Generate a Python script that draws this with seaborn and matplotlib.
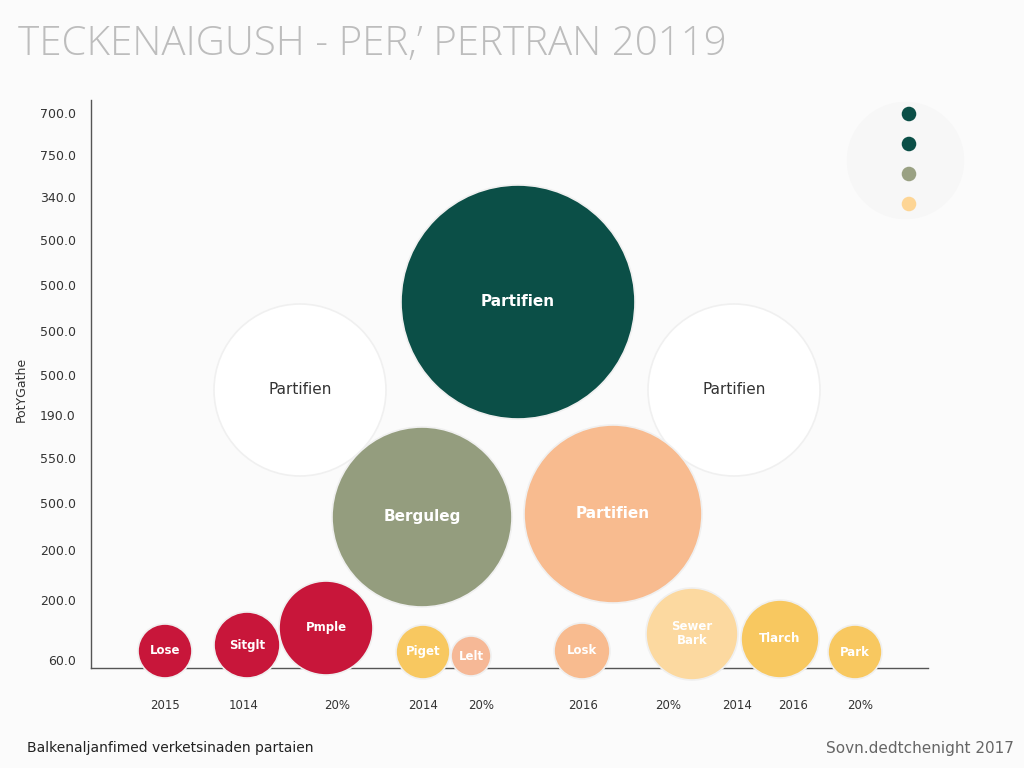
import matplotlib
matplotlib.use("Agg")
import matplotlib.pyplot as plt
import pandas as pd
import seaborn as sns

# bubble data (x position, value, radius in px, colour group)
labels = ["Partifien", "Partifien", "Partifien", "Berguleg", "Partifien",
          "Lose", "Sitglt", "Pmple", "Piget", "Lelt", "Losk", "Sewer\nBark", "Tlarch", "Park"]
x_pos = [427, 209, 643, 331, 522, 74, 156, 235, 332, 380, 491, 601, 689, 764]
values = [366, 278, 278, 151, 154, 17, 23, 40, 16, 12, 17, 34, 29, 16]
radius = [117, 86, 86, 90, 89, 27, 33, 47, 27, 20, 28, 46, 39, 27]
group = ["green", "white", "white", "olive", "peach", "red", "red", "red",
         "yellow", "lightpeach", "peach", "lightyellow", "yellow", "yellow"]

palette = {"green": "#0b4f47", "white": "#ffffff", "olive": "#949d7e",
           "peach": "#f8bb8f", "red": "#c8163a", "yellow": "#f8c860",
           "lightpeach": "#f6b896", "lightyellow": "#fcd9a0"}
text_colors = {"white": "#333333"}

ytick_pos = [555, 513, 471, 428, 383, 337, 293, 253, 210, 165, 118, 68, 8]
ytick_labels = ["700.0", "750.0", "340.0", "500.0", "500.0", "500.0", "500.0",
                "190.0", "550.0", "500.0", "200.0", "200.0", "60.0"]
xtick_marks = [51, 130, 203, 283, 384, 433, 517, 571, 649, 700, 739, 836]
xlabel_pos = [74, 153, 246, 332, 390, 492, 577, 646, 702, 769]
xtick_labels = ["2015", "1014", "20%", "2014", "20%", "2016", "20%", "2014", "2016", "20%"]

legend_colors = ["#0b4f47", "#0b4f47", "#9aa183", "#fdd595"]

df = pd.DataFrame({"label": labels, "x": x_pos, "y": values, "group": group})
# marker area in points^2 from pixel radius (dpi 100)
df["area"] = [(2 * r * 0.72) ** 2 for r in radius]

sns.set_style("white")
plt.rcParams["font.family"] = ["DejaVu Sans"]

bg = "#fbfbfb"
fig = plt.figure(figsize=(10.24, 7.68), dpi=100, facecolor=bg)
ax = fig.add_axes([91 / 1024, 1 - 668 / 768, 837 / 1024, 568 / 768])
ax.set_facecolor(bg)

sns.scatterplot(data=df, x="x", y="y", hue="group", palette=palette,
                size="area", sizes={a: a for a in df["area"]},
                edgecolor="#f0f0f0", linewidth=1.2, legend=False, ax=ax,
                clip_on=False, zorder=3)

for _, row in df.iterrows():
    big = row["area"] > 10000
    ax.text(row["x"], row["y"], row["label"], ha="center", va="center",
            color=text_colors.get(row["group"], "white"),
            fontsize=11 if big else 8.5,
            fontweight="normal" if row["group"] == "white" else "bold",
            zorder=4, linespacing=1.1)

ax.set_xlim(0, 837)
ax.set_ylim(0, 568)

ax.set_yticks(ytick_pos)
ax.set_yticklabels(ytick_labels, fontsize=9, color="#333333")
ax.set_xticks(xtick_marks)
ax.set_xticklabels([])
ax.set_xticks(xlabel_pos, minor=True)
ax.set_xticklabels(xtick_labels, minor=True, fontsize=8.5, color="#333333")
ax.tick_params(axis="x", which="major", length=6, color="#555555", direction="inout")
ax.tick_params(axis="x", which="minor", length=0, pad=22)
ax.tick_params(axis="y", length=5, color="#555555", pad=6)

for s in ["top", "right"]:
    ax.spines[s].set_visible(False)
for s in ["left", "bottom"]:
    ax.spines[s].set_color("#555555")
    ax.spines[s].set_linewidth(1)
ax.set_xlabel("")
ax.set_ylabel("PotYGathe", fontsize=9, color="#333333", labelpad=10)
ax.yaxis.set_label_coords(-0.075, 0.49)

# title and footer
fig.text(18 / 1024, 1 - 45 / 768, "TECKENAIGUSH - PER,\u2019 PERTRAN 20119",
         fontsize=29, color="#bdbdbd", family=["Open Sans", "DejaVu Sans"],
         fontweight="light", va="center", ha="left")
fig.text(27 / 1024, 1 - 748 / 768, "Balkenaljanfimed verketsinaden partaien",
         fontsize=10, color="#222222", va="center", ha="left")
fig.text(1014 / 1024, 1 - 748 / 768, "Sovn.dedtchenight 2017",
         fontsize=11, color="#666666", va="center", ha="right")

# legend dots
lax = fig.add_axes([860 / 1024, 1 - 240 / 768, 100 / 1024, 150 / 768])
lax.set_xlim(0, 100)
lax.set_ylim(0, 150)
lax.axis("off")
leg_df = pd.DataFrame({"x": [49] * 4, "y": [126, 96, 66, 36], "c": range(4)})
lax.scatter(45, 80, s=(2 * 58 * 0.72) ** 2, color="#f7f7f7", zorder=1, clip_on=False)
sns.scatterplot(data=leg_df, x="x", y="y", hue="c",
                palette=dict(enumerate(legend_colors)), s=110,
                edgecolor="none", legend=False, ax=lax, zorder=2)
lax.set_xlabel("")
lax.set_ylabel("")

fig.savefig("out.png", dpi=100, facecolor=fig.get_facecolor())
